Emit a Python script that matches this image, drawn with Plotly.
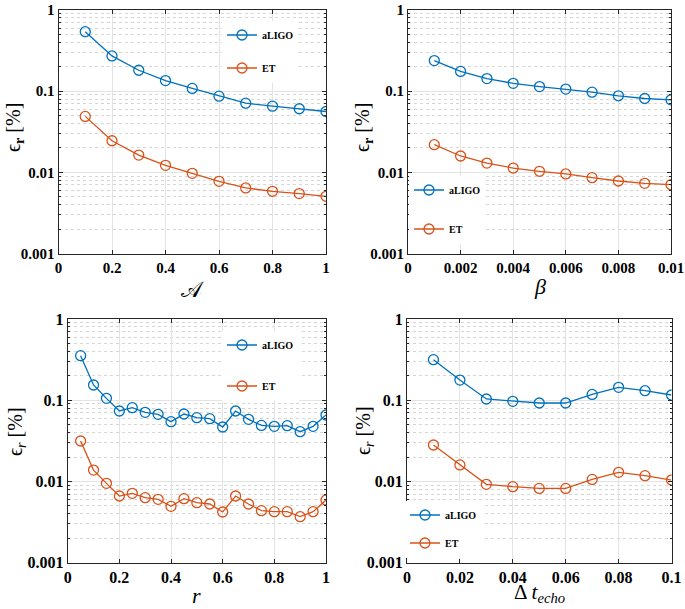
import plotly.graph_objects as go

# ---------------- data ----------------
A_vals = [0.1, 0.2, 0.3, 0.4, 0.5, 0.6, 0.7, 0.8, 0.9, 1.0]
A_aligo = [0.54, 0.272, 0.181, 0.135, 0.108, 0.0868, 0.0712, 0.0654, 0.0607, 0.0562]
A_et = [0.0489, 0.0245, 0.0163, 0.0122, 0.00972, 0.00775, 0.00642, 0.00584, 0.00547, 0.00507]

beta_vals = [0.001, 0.002, 0.003, 0.004, 0.005, 0.006, 0.007, 0.008, 0.009, 0.01]
beta_aligo = [0.238, 0.175, 0.143, 0.125, 0.114, 0.106, 0.0972, 0.0877, 0.0812, 0.0782]
beta_et = [0.0219, 0.0159, 0.0130, 0.0113, 0.0103, 0.00955, 0.00860, 0.00782, 0.00732, 0.00705]

r_vals = [0.05, 0.1, 0.15, 0.2, 0.25, 0.3, 0.35, 0.4, 0.45, 0.5,
          0.55, 0.6, 0.65, 0.7, 0.75, 0.8, 0.85, 0.9, 0.95, 1.0]
r_aligo = [0.354, 0.154, 0.1055, 0.0737, 0.081, 0.071, 0.067, 0.0545, 0.0677, 0.061,
           0.0593, 0.0468, 0.0737, 0.0582, 0.049, 0.0477, 0.0486, 0.041, 0.0477, 0.0658]
r_et = [0.0315, 0.0138, 0.00948, 0.00662, 0.00714, 0.00632, 0.00603, 0.00494, 0.00614, 0.00548,
        0.00528, 0.00421, 0.00662, 0.00528, 0.00437, 0.00425, 0.00425, 0.00369, 0.00425, 0.00591]

dt_vals = [0.01, 0.02, 0.03, 0.04, 0.05, 0.06, 0.07, 0.08, 0.09, 0.1]
dt_aligo = [0.316, 0.177, 0.1036, 0.0969, 0.0924, 0.0924, 0.118, 0.144, 0.131, 0.116]
dt_et = [0.0281, 0.0160, 0.00922, 0.00863, 0.00822, 0.00822, 0.0106, 0.01295, 0.01178, 0.01042]

y_tickvals = [0.001, 0.01, 0.1, 1]
y_ticktext = ["0.001", "0.01", "0.1", "1"]
y_minor = [k * 10 ** e for e in (-3, -2, -1) for k in range(2, 10)]

series_names = ["aLIGO", "ET"]

BLUE = "#0072BD"
ORANGE = "#D95319"
FONT = "Liberation Serif"

W, H = 685, 609


def px_x(v):
    return v / W


def px_y(v):
    return 1 - v / H


panels = [
    dict(x=A_vals, a=A_aligo, e=A_et, xd=(58.5, 326), yd=(10, 253.5), xr=[0, 1], dt=0.2, fs=15,
         xt="𝒜", yt="ϵ<sub><b>r</b></sub> [%]", leg=(222, 51.5), gap=14, yt_pos=(15, 128), xty=289, xfs=22),
    dict(x=beta_vals, a=beta_aligo, e=beta_et, xd=(408, 671), yd=(10, 253.5), xr=[0, 0.01], dt=0.002, fs=15,
         xt="<i>β</i>", yt="ϵ<sub><b>r</b></sub> [%]", leg=(409, 209.5), gap=20, yt_pos=(364, 128), xty=286, xfs=22),
    dict(x=r_vals, a=r_aligo, e=r_et, xd=(67.7, 326), yd=(319, 562.7), xr=[0, 1], dt=0.2, fs=16,
         xt="<i>r</i>", yt="ϵ<sub><i>r</i></sub> [%]", leg=(222, 365.5), gap=22, yt_pos=(16, 431), xty=595, xfs=22),
    dict(x=dt_vals, a=dt_aligo, e=dt_et, xd=(407, 671.5), yd=(319, 562.7), xr=[0, 0.1], dt=0.02, fs=16,
         xt="Δ <i>t</i><sub><i>echo</i></sub>", yt="ϵ<sub><i>r</i></sub> [%]", leg=(405, 529), gap=9,
         yt_pos=(364, 431), xty=593, xfs=21),
]

fig = go.Figure()
annotations = []
for i, p in enumerate(panels):
    idx = "" if i == 0 else str(i + 1)
    xa, ya = "x" + idx, "y" + idx
    legname = "legend" + idx
    for name, vals, col in ((series_names[0], p["a"], BLUE), (series_names[1], p["e"], ORANGE)):
        fig.add_trace(go.Scatter(
            x=p["x"], y=vals, mode="lines+markers", name=name,
            xaxis=xa, yaxis=ya, legend=legname, legendgroup=f"{name}{i}",
            line=dict(color=col, width=1.3),
            marker=dict(symbol="circle-open", size=10, color=col, line=dict(width=1.3, color=col)),
        ))
    x0, x1 = px_x(p["xd"][0]), px_x(p["xd"][1])
    y1, y0 = px_y(p["yd"][0]), px_y(p["yd"][1])
    axis_common = dict(showline=True, linecolor="#262626", linewidth=1, mirror="ticks",
                       ticks="inside", ticklen=4, tickcolor="#262626", tickwidth=1,
                       tickfont=dict(family=FONT, size=p["fs"], color="black", weight="bold"),
                       zeroline=False, showgrid=True, gridcolor="#e3e3e3", gridwidth=1,
                       automargin=False)
    fig.update_layout(**{
        "xaxis" + idx: dict(domain=[x0, x1], anchor=ya, range=p["xr"], dtick=p["dt"], tick0=0,
                            tickformat="~g", **axis_common),
        "yaxis" + idx: dict(domain=[y0, y1], anchor=xa, type="log", range=[-3, 0],
                            tickvals=y_tickvals, ticktext=y_ticktext,
                            minor=dict(tickmode="array", tickvals=y_minor, ticks="inside", ticklen=2,
                                       tickcolor="#262626", showgrid=True, gridcolor="#d6d6d6",
                                       griddash="dot", gridwidth=1),
                            **axis_common),
        legname: dict(x=px_x(p["leg"][0]), y=px_y(p["leg"][1]), xanchor="left", yanchor="middle",
                      bgcolor="white", borderwidth=0, tracegroupgap=p["gap"], itemwidth=30,
                      font=dict(family=FONT, size=10, color="black", weight="bold")),
    })
    annotations.append(dict(text=p["yt"], xref="paper", yref="paper", x=px_x(p["yt_pos"][0]),
                            y=px_y(p["yt_pos"][1]), textangle=-90, showarrow=False,
                            xanchor="center", yanchor="middle",
                            font=dict(family=FONT, size=20, color="black")))
    annotations.append(dict(text=p["xt"], xref="paper", yref="paper", x=(x0 + x1) / 2,
                            y=px_y(p["xty"]), showarrow=False, xanchor="center", yanchor="middle",
                            font=dict(family=FONT, size=p["xfs"], color="black")))

fig.update_layout(width=W, height=H, margin=dict(l=0, r=0, t=0, b=0),
                  paper_bgcolor="white", plot_bgcolor="white", showlegend=True,
                  annotations=annotations)
fig.write_html("out.html", config={"displayModeBar": False},
               post_script="document.body.style.margin='0px';document.body.style.overflow='hidden';")
